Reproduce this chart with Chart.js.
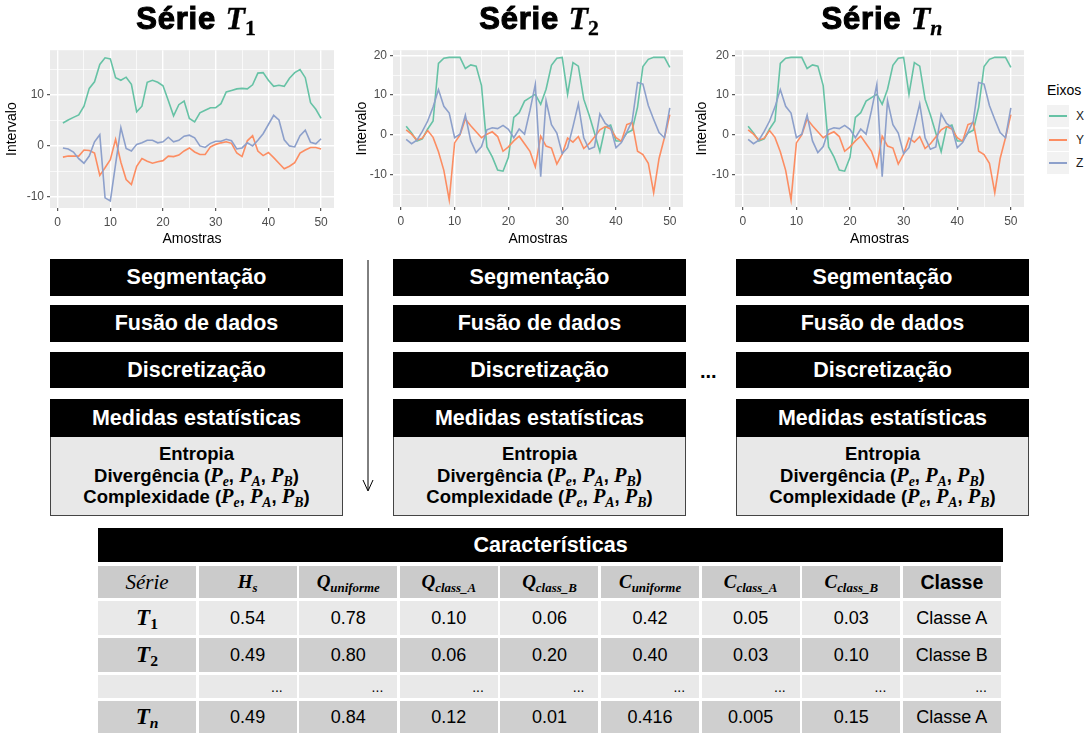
<!DOCTYPE html>
<html>
<head>
<meta charset="utf-8">
<script src="https://cdn.jsdelivr.net/npm/chart.js@4.4.1/dist/chart.umd.min.js"></script>
<style>
  body { margin: 0; background: #fff; font-family: "Liberation Sans", Arial, sans-serif; }
  #wrap { position: relative; width: 1087px; height: 733px; overflow: hidden; }
  canvas { position: absolute; }
  .title { position: absolute; top: 0px; transform: translateX(-50%); font-weight: bold; font-size: 31px; letter-spacing: 0.8px; white-space: nowrap; -webkit-text-stroke: 1.1px #000; }
  .title .mi { -webkit-text-stroke: 0.3px #000; font-size: 32px; letter-spacing: 0; }
  .mi { font-family: "Liberation Serif", "DejaVu Serif", serif; font-style: italic; font-weight: bold; }
  .mi sub { font-size: 68%; vertical-align: -0.28em; line-height: 0; }
  .mi sub.up { font-style: normal; }
  .box { position: absolute; background: #000; color: #fff; font-weight: bold; font-size: 21.5px; display: flex; align-items: center; justify-content: center; }
  .gbox { position: absolute; background: #E8E8E8; border: 1px solid #444; border-top: none; font-weight: bold; font-size: 18.5px; text-align: center; line-height: 21.5px; box-sizing: border-box; padding-top: 6px; }
  .gbox .mi { font-size: 1.1em; }
  .cell { position: absolute; display: flex; align-items: center; justify-content: center; font-size: 18px; }
  .legend { position: absolute; left: 1047px; top: 82px; font-size: 14px; }
  .key { position: absolute; left: 1047px; width: 22px; height: 22px; background: #F2F2F2; }
  .key i { position: absolute; left: 2px; right: 2px; top: 10px; height: 2px; }
  .klab { position: absolute; left: 1076px; font-size: 12px; color: #1a1a1a; }
</style>
</head>
<body>
<div id="wrap">
  <canvas id="c1" width="340" height="210" style="left:0px;top:40px"></canvas>
  <canvas id="c2" width="340" height="210" style="left:350px;top:40px"></canvas>
  <canvas id="c3" width="340" height="210" style="left:690px;top:40px"></canvas>
</div>
<script>
// sample index (x axis)
const samples = [1,2,3,4,5,6,7,8,9,10,11,12,13,14,15,16,17,18,19,20,21,22,23,24,25,
                 26,27,28,29,30,31,32,33,34,35,36,37,38,39,40,41,42,43,44,45,46,47,48,49,50];

const seriesNames = ["X", "Y", "Z"];
const seriesColors = ["#66C2A5", "#FC8D62", "#8DA0CB"];

// Série T1
const t1X = [4.5,5.1,5.6,6.1,7.8,11.3,12.6,16.0,17.3,17.1,13.4,12.9,13.5,12.1,6.7,7.8,12.5,12.9,12.5,11.8,
             8.9,5.9,8.1,8.8,5.4,4.7,6.5,7.0,7.5,7.5,8.3,10.6,10.9,11.2,11.3,11.2,12.0,14.3,14.4,12.9,
             11.7,11.9,11.7,13.3,14.4,15.0,13.4,8.5,7.2,5.4];
const t1Y = [-2.2,-2.0,-2.0,-2.0,-0.8,-0.9,-1.4,-5.8,-4.3,-2.7,1.3,-3.2,-6.6,-7.6,-4.0,-2.5,-3.0,-3.4,-3.1,-2.9,
             -2.0,-2.1,-1.8,-1.0,-0.4,-1.2,-1.7,-1.7,-0.2,0.3,0.6,0.8,0.5,-1.4,-2.1,1.0,2.0,-1.0,-1.9,-1.3,
             -2.3,-3.4,-4.5,-4.0,-3.3,-1.4,-0.8,-0.3,-0.3,-0.6];
const t1Z = [-0.4,-0.6,-1.2,-2.5,-3.4,-2.0,0.8,2.2,-10.2,-10.8,-3.6,3.6,-0.5,-1.0,0.3,0.6,1.1,1.1,0.6,0.8,
             1.7,0.8,1.1,1.9,2.1,1.6,0.0,-0.3,0.5,0.9,0.9,1.3,1.0,-0.6,-0.4,0.6,0.0,1.1,2.4,4.2,
             6.0,5.1,1.2,0.0,-0.2,2.0,3.1,0.7,0.4,1.4];

// Série T2
const t2X = [2.2,0.5,-1.5,-1.0,1.5,3.5,18.0,19.3,19.5,19.5,19.5,16.7,17.6,17.3,12.4,-3.0,-5.5,-8.8,-9.1,-5.6,
             4.4,5.6,8.5,9.4,10.2,7.7,11.5,17.5,19.3,19.5,10.2,18.2,17.3,9.0,5.0,0.5,-4.2,2.0,2.5,-1.5,
             -1.5,0.5,1.2,7.0,17.2,19.0,19.5,19.5,19.5,17.0];
const t2Y = [1.3,0.2,-1.3,-0.8,1.1,-0.6,-4.2,-8.9,-16.3,-2.0,0.0,4.0,2.3,0.8,-0.7,0.2,0.8,-0.4,-4.1,-3.0,
             -1.5,-0.3,-2.2,-4.1,-8.0,-0.3,-2.8,-3.3,-7.3,-4.8,-0.8,-1.8,-0.4,-3.4,-2.2,-0.5,1.3,2.1,1.5,-0.7,
             -1.6,2.6,3.1,-4.1,-4.9,-7.1,-14.5,-5.9,-0.7,5.1];
const t2Z = [-1.1,-2.2,-1.3,0.9,3.5,7.0,11.4,7.2,5.5,-0.7,0.2,5.0,-1.5,-4.4,-2.9,1.3,1.8,1.6,2.4,1.4,
             -0.7,1.5,0.2,6.1,12.7,-10.5,8.6,2.6,0.5,-4.7,-3.2,2.1,7.8,-0.7,-3.6,-3.0,5.3,2.9,1.9,-3.2,
             -1.9,0.7,3.5,13.2,12.8,7.4,3.9,0.6,-0.7,6.8];

// Série Tn (same signals as T2 in the figure)
const tnX = t2X;
const tnY = t2Y;
const tnZ = t2Z;

// axis ticks
const xTicks = [0,5,10,15,20,25,30,35,40,45,50];
const yTicksT1 = [-10,-5,0,5,10,15];
const yTicksT2 = [-15,-10,-5,0,5,10,15,20];

// flow steps and table
const steps = ["Segmentação", "Fusão de dados", "Discretização", "Medidas estatísticas"];
const measures = ["Entropia", "Divergência", "Complexidade"];
const tableHead = ["Série", "H|s", "Q|uniforme", "Q|class_A", "Q|class_B", "C|uniforme", "C|class_A", "C|class_B", "Classe"];
const rowNames = ["1", "2", "", "n"];
const rowHs = ["0.54", "0.49", "...", "0.49"];
const rowQunif = ["0.78", "0.80", "...", "0.84"];
const rowQA = ["0.10", "0.06", "...", "0.12"];
const rowQB = ["0.06", "0.20", "...", "0.01"];
const rowCunif = ["0.42", "0.40", "...", "0.416"];
const rowCA = ["0.05", "0.03", "...", "0.005"];
const rowCB = ["0.03", "0.10", "...", "0.15"];
const rowClass = ["Classe A", "Classe B", "...", "Classe A"];

const wrap = document.getElementById("wrap");

// ggplot grey panel
const panelBg = {
    id: "panelBg",
    beforeDraw(chart) {
        const a = chart.chartArea;
        const ctx = chart.ctx;
        ctx.save();
        ctx.fillStyle = "#EBEBEB";
        ctx.fillRect(a.left, a.top, a.right - a.left, a.bottom - a.top);
        ctx.restore();
    }
};

function isMajor(c) {
    return c.tick && c.tick.value % 10 === 0;
}

function makeChart(id, xs, ys, zs, yMin, yMax, yTicks, yW, xH, padTop, padRight) {
    const ctx = document.getElementById(id).getContext("2d");
    const series = [xs, ys, zs];
    const grid = {
        color: "#FFFFFF",
        lineWidth: c => isMajor(c) ? 1.4 : 0.7,
        tickColor: c => isMajor(c) ? "#333333" : "rgba(0,0,0,0)",
        tickLength: 3,
        tickWidth: 1
    };
    const tickFont = { family: "Liberation Sans", size: 12 };
    const titleFont = { family: "Liberation Sans", size: 14 };
    new Chart(ctx, {
        type: "line",
        data: {
            datasets: series.map((s, i) => ({
                label: seriesNames[i],
                data: s.map((v, k) => ({ x: samples[k], y: v })),
                borderColor: seriesColors[i],
                borderWidth: 1.6,
                pointRadius: 0,
                tension: 0,
                fill: false,
                order: 3 - i
            }))
        },
        options: {
            responsive: false,
            animation: false,
            devicePixelRatio: 1,
            layout: { padding: { top: padTop, right: padRight, bottom: 0, left: 0 } },
            plugins: { legend: { display: false }, tooltip: { enabled: false } },
            scales: {
                x: {
                    type: "linear",
                    min: -1.45,
                    max: 52.45,
                    border: { display: false },
                    grid: grid,
                    afterBuildTicks: s => { s.ticks = xTicks.map(v => ({ value: v })); },
                    afterFit: s => { s.height = xH; },
                    ticks: { autoSkip: false, maxRotation: 0, padding: 4, color: "#4D4D4D", font: tickFont,
                             callback: v => v % 10 === 0 ? String(v) : "" },
                    title: { display: true, text: "Amostras", color: "#000", font: titleFont, padding: { top: 0, bottom: 2 } }
                },
                y: {
                    type: "linear",
                    min: yMin,
                    max: yMax,
                    border: { display: false },
                    grid: grid,
                    afterBuildTicks: s => { s.ticks = yTicks.map(v => ({ value: v })); },
                    afterFit: s => { s.width = yW; },
                    ticks: { autoSkip: false, padding: 3, color: "#4D4D4D", font: tickFont,
                             callback: v => v % 10 === 0 ? String(v) : "" },
                    title: { display: true, text: "Intervalo", color: "#000", font: titleFont, padding: { top: 4, bottom: 0 } }
                }
            }
        },
        plugins: [panelBg]
    });
}

makeChart("c1", t1X, t1Y, t1Z, -12.2, 18.8, yTicksT1, 50, 42, 7, 6);
makeChart("c2", t2X, t2Y, t2Z, -18.1, 21.3, yTicksT2, 43, 43, 6, 7);
makeChart("c3", tnX, tnY, tnZ, -18.1, 21.3, yTicksT2, 45, 43, 7, 6);

// titles
function add(html, cls, style) {
    const d = document.createElement("div");
    d.className = cls;
    d.style.cssText = style;
    d.innerHTML = html;
    wrap.appendChild(d);
    return d;
}
const titleSubs = ['<sub class="up">1</sub>', '<sub class="up">2</sub>', "<sub>n</sub>"];
const titleCenters = [196, 539, 882];
titleSubs.forEach((s, i) => {
    add('Série <span class="mi">T' + s + "</span>", "title", "left:" + titleCenters[i] + "px");
});

// legend
add("Eixos", "legend", "");
seriesNames.forEach((n, i) => {
    const top = 105 + i * 23.5;
    add('<i style="background:' + seriesColors[i] + '"></i>', "key", "top:" + top + "px");
    add(n, "klab", "top:" + (top + 4) + "px");
});

// flow boxes
const colLeft = [50, 393, 736];
const colW = 293;
const stepTop = [259, 305, 352, 399];
const stepH = [37, 37, 36, 38];
const pSet = '(<span class="mi">P<sub>e</sub></span>, <span class="mi">P<sub>A</sub></span>, <span class="mi">P<sub>B</sub></span>)';
colLeft.forEach(left => {
    steps.forEach((s, i) => {
        add(s, "box", "left:" + left + "px;top:" + stepTop[i] + "px;width:" + colW + "px;height:" + stepH[i] + "px");
    });
    add(measures[0] + "<br>" + measures[1] + " " + pSet + "<br>" + measures[2] + " " + pSet,
        "gbox", "left:" + left + "px;top:437px;width:" + colW + "px;height:79px");
});

// arrow between column 1 and 2
add('<svg width="12" height="232"><line x1="6" y1="0" x2="6" y2="230" stroke="#000" stroke-width="1"/>' +
    '<polyline points="1,220 6,231 11,220" fill="none" stroke="#000" stroke-width="1"/></svg>',
    "", "position:absolute;left:362px;top:260px");
add("...", "", "position:absolute;left:700px;top:360px;font-size:20px;font-weight:bold");

// table
add("Características", "box", "left:98px;top:528px;width:905px;height:34px");
const tLeft = 98, tColW = 100.6, gap = 2.5;
const rowTop = [566, 601, 638, 675, 701];
const rowH = [32, 34, 34, 23, 32];
const rowBg = ["#CBCBCB", "#E9E9E9", "#CFCFCF", "#E9E9E9", "#CFCFCF"];
const rowVals = [rowHs, rowQunif, rowQA, rowQB, rowCunif, rowCA, rowCB, rowClass];

function headHtml(h, i) {
    if (i === 0) return '<span style="font-family:\'Liberation Serif\',serif;font-style:italic;font-size:21px">' + h + "</span>";
    if (i === 8) return '<span style="font-weight:bold;font-size:19.5px">' + h + "</span>";
    const p = h.split("|");
    return '<span class="mi" style="font-size:19px">' + p[0] + "<sub>" + p[1] + "</sub></span>";
}

for (let r = 0; r < rowTop.length; r++) {
    for (let c = 0; c < 9; c++) {
        const x = tLeft + c * tColW;
        let html = "";
        let extra = "";
        if (r === 0) {
            html = headHtml(tableHead[c], c);
        } else if (c === 0) {
            const n = rowNames[r - 1];
            html = n ? '<span class="mi" style="font-size:23px">T<sub' + (n === "n" ? "" : ' class="up"') + ">" + n + "</sub></span>" : "";
        } else {
            html = rowVals[c - 1][r - 1];
            if (html === "...") extra = "justify-content:flex-end;padding-right:14px;box-sizing:border-box;font-size:14px;align-items:flex-end;padding-bottom:3px;";
        }
        add(html, "cell", "left:" + x.toFixed(1) + "px;top:" + rowTop[r] + "px;width:" + (tColW - gap).toFixed(1) +
            "px;height:" + rowH[r] + "px;background:" + rowBg[r] + ";" + extra);
    }
}
</script>
</body>
</html>
